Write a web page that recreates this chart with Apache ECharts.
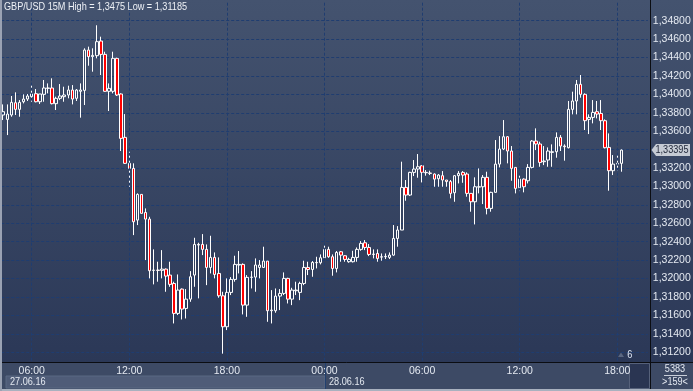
<!DOCTYPE html>
<html><head><meta charset="utf-8">
<script src="https://cdn.jsdelivr.net/npm/echarts@6/dist/echarts.min.js"></script>
<style>
html,body{margin:0;padding:0;background:#2b3857;}
#c{width:693px;height:391px;background:linear-gradient(to bottom,#44536f 0px,#2b3857 362px,#2b3857 391px);}
</style></head><body><div id="c"></div>
<script>
const FONT = '"Liberation Sans Narrow","Liberation Sans",Arial,sans-serif';
const NARROW = 0.83;
const titleText = 'GBP/USD 15M High = 1,3475 Low = 1,31185';
const barCountText = '5383';
const visibleText = '>159<';
const shiftText = '6';
const dayLabels = ['27.06.16', '28.06.16'];
const gridTimes = ['00:00', '06:00', '12:00', '18:00'];

// 15-minute time slots, 27.06.16 04:15 onward (159 visible slots)
const categories = [];
(function () {
  const start = 4 * 60 + 15;
  for (let i = 0; i < 159; i++) {
    const t = start + 15 * i;
    const d = 27 + Math.floor(t / 1440);
    const hh = Math.floor((t % 1440) / 60), mm = t % 60;
    categories.push(d + '.06.16 ' + String(hh).padStart(2, '0') + ':' + String(mm).padStart(2, '0'));
  }
})();

const opens = [1.33776,1.33728,1.33776,1.33909,1.33837,1.33920,1.33949,1.33975,1.34007,1.33920,
1.34000,1.34065,1.34069,1.33899,1.33957,1.33975,1.33993,1.34047,1.33957,1.34033,
1.34043,1.34481,1.34409,1.34420,1.34579,1.34434,1.34033,1.34033,1.34391,1.34004,
1.33533,1.33251,1.33196,1.32635,1.32914,1.32718,1.32646,1.32089,1.32092,1.32089,
1.32103,1.32038,1.31947,1.31622,1.31886,1.31676,1.31777,1.32038,1.32364,1.32371,
1.32317,1.32121,1.32230,1.32056,1.31813,1.31477,1.31850,1.31991,1.32147,1.32154,
1.31712,1.32013,1.32016,1.32121,1.32121,1.32190,1.31651,1.31651,1.31810,1.31839,
1.32002,1.31777,1.31868,1.31850,1.31947,1.32121,1.32099,1.32172,1.32172,1.32226,
1.32317,1.32237,1.32110,1.32291,1.32248,1.32183,1.32183,1.32230,1.32317,1.32389,
1.32338,1.32262,1.32273,1.32233,1.32237,1.32230,1.32255,1.32436,1.32527,1.32990,
1.32907,1.33153,1.33189,1.33225,1.33153,1.33146,1.33135,1.33084,1.33117,1.33070,
1.33053,1.32932,1.33117,1.33153,1.33135,1.32925,1.32834,1.32993,1.32997,1.33099,
1.32762,1.32936,1.33243,1.33406,1.33540,1.33385,1.33207,1.32986,1.33080,1.33062,
1.33207,1.33493,1.33461,1.33269,1.33287,1.33370,1.33377,1.33533,1.33439,1.33421,
1.33837,1.33928,1.34109,1.34000,1.33728,1.33750,1.33812,1.33793,1.33714,1.33424,
1.33171,1.33243,1.33251];
const highs = [1.33891,1.33891,1.33982,1.34022,1.33938,1.34000,1.34004,1.34112,1.34058,1.34004,
1.34156,1.34119,1.34174,1.33975,1.34112,1.34083,1.34094,1.34101,1.34058,1.34119,
1.34500,1.34518,1.34500,1.34750,1.34626,1.34463,1.34119,1.34463,1.34398,1.34011,
1.33786,1.33377,1.33251,1.32925,1.32914,1.32762,1.32671,1.32317,1.32183,1.32309,
1.32110,1.32183,1.31966,1.32045,1.31893,1.31886,1.32081,1.32443,1.32389,1.32483,
1.32371,1.32465,1.32284,1.32230,1.31857,1.32002,1.32016,1.32248,1.32299,1.32165,
1.32038,1.32081,1.32219,1.32201,1.32346,1.32190,1.31875,1.31893,1.31886,1.32067,
1.32009,1.31900,1.31966,1.31966,1.32194,1.32183,1.32190,1.32237,1.32262,1.32364,
1.32346,1.32262,1.32299,1.32299,1.32255,1.32226,1.32302,1.32338,1.32407,1.32418,
1.32375,1.32317,1.32317,1.32273,1.32273,1.32284,1.32581,1.32570,1.33269,1.33070,
1.33160,1.33287,1.33352,1.33232,1.33178,1.33171,1.33142,1.33135,1.33167,1.33070,
1.33070,1.33124,1.33167,1.33167,1.33153,1.32925,1.33099,1.33196,1.33124,1.33160,
1.32943,1.33504,1.33547,1.33721,1.33547,1.33439,1.33207,1.33131,1.33088,1.33243,
1.33504,1.33631,1.33486,1.33439,1.33424,1.33457,1.33587,1.33558,1.33457,1.33928,
1.34029,1.34156,1.34210,1.34011,1.33783,1.33938,1.33928,1.33938,1.33728,1.33576,
1.33341,1.33341,1.33402];
const lows = [1.33721,1.33558,1.33757,1.33776,1.33757,1.33902,1.33928,1.33920,1.33913,1.33895,
1.33920,1.34011,1.33891,1.33830,1.33938,1.33920,1.33957,1.33891,1.33928,1.33747,
1.33884,1.34311,1.34246,1.34391,1.34210,1.34029,1.33819,1.34011,1.33982,1.33385,
1.33245,1.32997,1.32472,1.32581,1.32708,1.32201,1.32002,1.31937,1.31966,1.32002,
1.31857,1.31911,1.31513,1.31604,1.31556,1.31567,1.31748,1.31911,1.31785,1.32255,
1.31929,1.32056,1.32002,1.31792,1.31185,1.31441,1.31821,1.31966,1.32056,1.31611,
1.31585,1.31893,1.31857,1.32002,1.32121,1.31531,1.31513,1.31629,1.31658,1.31821,
1.31730,1.31712,1.31821,1.31766,1.31929,1.32038,1.32020,1.32110,1.32154,1.32219,
1.32226,1.32031,1.32067,1.32183,1.32183,1.32172,1.32175,1.32183,1.32302,1.32309,
1.32244,1.32219,1.32183,1.32194,1.32212,1.32212,1.32248,1.32346,1.32527,1.32845,
1.32896,1.33113,1.33095,1.33044,1.33117,1.33124,1.32997,1.32997,1.32997,1.32997,
1.32871,1.32834,1.33033,1.33040,1.32889,1.32726,1.32588,1.32925,1.32809,1.32697,
1.32726,1.32936,1.33207,1.33395,1.33251,1.33062,1.32925,1.32950,1.32936,1.33033,
1.33196,1.33395,1.33214,1.33232,1.33214,1.33214,1.33312,1.33385,1.33280,1.33413,
1.33783,1.33783,1.33964,1.33613,1.33569,1.33685,1.33739,1.33613,1.33413,1.32954,
1.33124,1.33171,1.33160];
const closes = [1.33812,1.33786,1.33913,1.33837,1.33913,1.33949,1.33982,1.34004,1.33920,1.34004,
1.34069,1.34069,1.33899,1.33957,1.33982,1.33993,1.34047,1.33949,1.34047,1.34047,
1.34481,1.34409,1.34423,1.34572,1.34434,1.34033,1.34065,1.34391,1.33993,1.33522,
1.33251,1.33196,1.32617,1.32914,1.32708,1.32646,1.32085,1.32092,1.32089,1.32103,
1.32027,1.31937,1.31622,1.31875,1.31669,1.31777,1.32020,1.32371,1.32371,1.32317,
1.32121,1.32230,1.32045,1.31813,1.31477,1.31850,1.31991,1.32154,1.32154,1.31712,
1.32013,1.32016,1.32147,1.32147,1.32190,1.31651,1.31658,1.31810,1.31839,1.32002,
1.31777,1.31875,1.31875,1.31947,1.32121,1.32099,1.32175,1.32175,1.32226,1.32317,
1.32237,1.32110,1.32284,1.32255,1.32208,1.32208,1.32230,1.32317,1.32382,1.32338,
1.32262,1.32266,1.32219,1.32237,1.32241,1.32255,1.32436,1.32527,1.32990,1.32907,
1.33153,1.33189,1.33214,1.33153,1.33149,1.33142,1.33080,1.33124,1.33070,1.33053,
1.32925,1.33117,1.33142,1.33124,1.32925,1.32834,1.32997,1.32997,1.33099,1.32762,
1.32936,1.33243,1.33406,1.33540,1.33385,1.33196,1.32979,1.33080,1.32997,1.33207,
1.33493,1.33461,1.33261,1.33276,1.33385,1.33377,1.33533,1.33439,1.33432,1.33837,
1.33928,1.34109,1.34000,1.33714,1.33750,1.33804,1.33786,1.33714,1.33421,1.33171,
1.33243,1.33251,1.33395];

const yMin = 1.310, yMax = 1.350, yStep = 0.002;
const lastClose = closes[closes.length - 1];
const fmt = v => v.toFixed(5).replace('.', ',');

const GRID_COLOR = '#1f3d70';
const TEXT_COLOR = '#e4e9f1';

const candleData = opens.map((o, i) => [o, closes[i], lows[i], highs[i]]);
const vlineIdx = [];
categories.forEach((c, i) => { if (gridTimes.includes(c.slice(-5))) vlineIdx.push(i); });

const nLines = Math.round((yMax - yMin) / yStep) + 1;
const splitColors = [];
for (let i = 0; i < nLines; i++) splitColors.push(i === 0 || i === nLines - 1 ? 'rgba(0,0,0,0)' : GRID_COLOR);

const chart = echarts.init(document.getElementById('c'), null, {renderer: 'canvas'});
chart.setOption({
  animation: false,
  backgroundColor: 'transparent',
  grid: {left: 1.2, right: 45.2, top: 2.24, bottom: 20.3, containLabel: false, outerBoundsMode: 'none'},
  xAxis: {
    type: 'category', data: categories, boundaryGap: true, offset: -5, z: 10,
    axisLine: {show: false}, axisTick: {show: false}, splitLine: {show: false},
    axisLabel: {
      interval: (i, v) => gridTimes.includes(v.slice(-5)),
      formatter: v => v.slice(-5),
      color: TEXT_COLOR, fontFamily: FONT, fontSize: 10.5, margin: 0
    }
  },
  yAxis: {
    type: 'value', position: 'right', min: yMin, max: yMax, interval: yStep,
    axisLine: {show: false}, axisTick: {show: false},
    splitLine: {show: true, lineStyle: {color: splitColors, type: [3, 2], width: 1}},
    axisLabel: {
      margin: 5, color: TEXT_COLOR, fontFamily: FONT, fontSize: 10.5,
      formatter: v => (v <= yMin + 1e-9 || v >= yMax - 1e-9 || Math.abs(v - lastClose) < 0.0006) ? '' : fmt(v)
    }
  },
  series: [
    {
      type: 'line', data: categories.map(() => null), showSymbol: false, z: 1, silent: true,
      markLine: {
        silent: true, symbol: ['none', 'none'], animation: false,
        label: {show: false},
        lineStyle: {color: GRID_COLOR, type: [3, 2], width: 1},
        data: vlineIdx.map(i => ({xAxis: i}))
      }
    },
    {
      type: 'candlestick', data: candleData, barWidth: 3, z: 3,
      itemStyle: {
        color: 'rgba(0,0,0,0)', color0: '#ff0000',
        borderColor: '#ffffff', borderColor0: '#ffffff', borderColorDoji: '#ffffff', borderWidth: 1
      }
    }
  ]
});

// decorations positioned from the library's scales
const midnightIdx = categories.findIndex(c => c.startsWith('28.06.16 00:00'));
const xMid = Math.round(chart.convertToPixel({xAxisIndex: 0}, midnightIdx)) + 0.5;
const xFirst = chart.convertToPixel({xAxisIndex: 0}, 0);
const xLast = chart.convertToPixel({xAxisIndex: 0}, opens.length - 1);
const yTag = chart.convertToPixel({yAxisIndex: 0}, lastClose);
const txt = (x, y, text, fill, extra) => Object.assign({
  type: 'text', z: 9, x: x, y: y, scaleX: NARROW,
  style: {text: text, fill: fill, font: '11px ' + FONT, verticalAlign: 'middle'}
}, extra || {});

chart.setOption({
  graphic: [
    {type: 'rect', z: 5, shape: {x: 0, y: 363, width: 693, height: 28}, style: {fill: '#3d4a65'}},
    {type: 'rect', z: 6, shape: {x: Math.round(xFirst) + 3, y: 376, width: xMid - Math.round(xFirst) - 3.5, height: 12}, style: {fill: '#4f5c78', stroke: '#5b6883', lineWidth: 1}},
    {type: 'line', z: 6, shape: {x1: xMid, y1: 363, x2: xMid, y2: 389}, style: {stroke: '#22406f', lineWidth: 1}},
    txt(Math.round(xFirst) + 7, 382, dayLabels[0], TEXT_COLOR),
    txt(xMid + 3.5, 382, dayLabels[1], TEXT_COLOR),
    {type: 'rect', z: 6, shape: {x: 629.5, y: 363.5, width: 20, height: 25}, style: {fill: '#2a3552', stroke: '#56617a', lineWidth: 1}},
    {type: 'line', z: 8, shape: {x1: 0, y1: 362.5, x2: 693, y2: 362.5}, style: {stroke: '#0b0d12', lineWidth: 1}},
    {type: 'line', z: 8, shape: {x1: 650.5, y1: 0, x2: 650.5, y2: 391}, style: {stroke: '#0b0d12', lineWidth: 1}},
    {type: 'rect', z: 8, shape: {x: 0, y: 389, width: 693, height: 2}, style: {fill: '#a9b1bf'}},
    {type: 'rect', z: 8, shape: {x: 0, y: 0, width: 2, height: 391}, style: {fill: '#9aa2b3'}},
    txt(4, 7, titleText, '#eef1f6'),
    {type: 'polygon', z: 9, shape: {points: [[618, 357], [621, 352.5], [624, 357]]}, style: {fill: '#5a6781'}},
    txt(xLast + 6, 355, shiftText, '#dfe7f5'),
    txt(675, 369, barCountText, TEXT_COLOR, {style: {text: barCountText, fill: TEXT_COLOR, font: '11px ' + FONT, align: 'center', verticalAlign: 'middle'}}),
    {type: 'line', z: 9, shape: {x1: 664, y1: 375.5, x2: 687, y2: 375.5}, style: {stroke: '#c9cfda', lineWidth: 1}},
    txt(675, 382, visibleText, TEXT_COLOR, {style: {text: visibleText, fill: TEXT_COLOR, font: '11px ' + FONT, align: 'center', verticalAlign: 'middle'}}),
    {type: 'polygon', z: 9, shape: {points: [[651.5, yTag], [656, yTag - 6], [690, yTag - 6], [690, yTag + 6], [656, yTag + 6]]}, style: {fill: '#c6cbd4'}},
    txt(655.5, yTag, fmt(lastClose), '#1f2638', {z: 10})
  ]
});
</script>
</body></html>
